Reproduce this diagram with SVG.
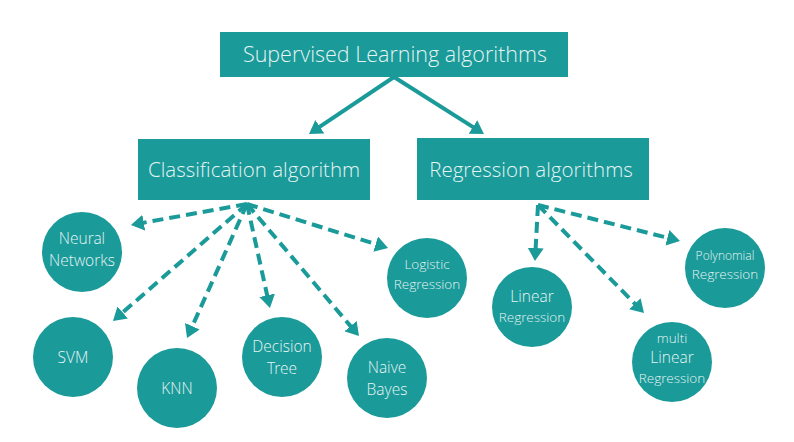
<svg xmlns="http://www.w3.org/2000/svg" width="794" height="442" viewBox="0 0 794 442">
<style>
.box{fill:#1a9a99}
.node circle{fill:#1a9a99}
.t{font-family:"Open Sans Light","Open Sans","Liberation Sans",sans-serif;font-weight:300;fill:#e6f4f4;text-anchor:middle}
.big{font-size:20.5px}
.top{font-size:21.5px}
.sm{font-size:15.5px}
.xs{font-size:13.5px}
.xxs{font-size:12px}
.solid{stroke:#1a9a99;stroke-width:4;fill:none;marker-end:url(#ah)}
.dash{stroke:#1a9a99;stroke-width:4;fill:none;stroke-dasharray:11 6;marker-end:url(#ah)}
</style>
<defs>
<marker id="ah" markerUnits="userSpaceOnUse" markerWidth="16" markerHeight="16" refX="3" refY="8" orient="auto">
<path d="M0,0 L13,8 L0,16 z" fill="#1a9a99"/>
</marker>
</defs>
<rect width="794" height="442" fill="#ffffff"/>
<g id="connectors">
<line class="solid" x1="394" y1="77" x2="317.3" y2="128.4"/>
<line class="solid" x1="394" y1="77" x2="475.5" y2="128.6"/>
<line class="dash" x1="247" y1="204" x2="140.8" y2="223.2"/>
<line class="dash" x1="247" y1="204" x2="120.5" y2="314.4"/>
<line class="dash" x1="247" y1="204" x2="191.1" y2="328.9"/>
<line class="dash" x1="247" y1="204" x2="267.8" y2="298.2"/>
<line class="dash" x1="247" y1="204" x2="352.5" y2="328.4"/>
<line class="dash" x1="247" y1="204" x2="378.5" y2="245.0"/>
<line class="dash" x1="538" y1="205" x2="535.5" y2="251"/>
<line class="dash" x1="538" y1="205" x2="637" y2="305.9"/>
<line class="dash" x1="538" y1="205" x2="670.3" y2="238.5"/>
</g>
<g id="root"><rect class="box" x="220" y="32" width="348" height="45"/><text class="t top" x="395" y="62">Supervised Learning algorithms</text></g>
<g id="classification"><rect class="box" x="138" y="139" width="232" height="61"/><text class="t big" x="254" y="177">Classification algorithm</text></g>
<g id="regression"><rect class="box" x="417" y="138" width="232" height="62"/><text class="t big" x="531" y="177">Regression algorithms</text></g>
<g id="neural" class="node"><circle cx="82" cy="252" r="40"/><text class="t sm" x="82" y="244">Neural</text><text class="t sm" x="82" y="266">Networks</text></g>
<g id="svm" class="node"><circle cx="73" cy="357" r="40"/><text class="t sm" x="73" y="363">SVM</text></g>
<g id="knn" class="node"><circle cx="177" cy="388" r="40"/><text class="t sm" x="177" y="394">KNN</text></g>
<g id="dtree" class="node"><circle cx="282" cy="357" r="40"/><text class="t sm" x="282" y="352">Decision</text><text class="t sm" x="282" y="374">Tree</text></g>
<g id="nbayes" class="node"><circle cx="387" cy="378" r="40"/><text class="t sm" x="387" y="373">Naive</text><text class="t sm" x="387" y="395">Bayes</text></g>
<g id="logistic" class="node"><circle cx="427" cy="278" r="40"/><text class="t xs" x="427" y="269">Logistic</text><text class="t xs" x="427" y="289">Regression</text></g>
<g id="linear" class="node"><circle cx="532" cy="307" r="40"/><text class="t sm" x="532" y="302">Linear</text><text class="t xs" x="532" y="322">Regression</text></g>
<g id="multi" class="node"><circle cx="672" cy="362" r="40"/><text class="t xs" x="672" y="343">multi</text><text class="t sm" x="672" y="363">Linear</text><text class="t xs" x="672" y="383">Regression</text></g>
<g id="poly" class="node"><circle cx="725" cy="268" r="40"/><text class="t xxs" x="725" y="260">Polynomial</text><text class="t xs" x="725" y="279">Regression</text></g>
</svg>
